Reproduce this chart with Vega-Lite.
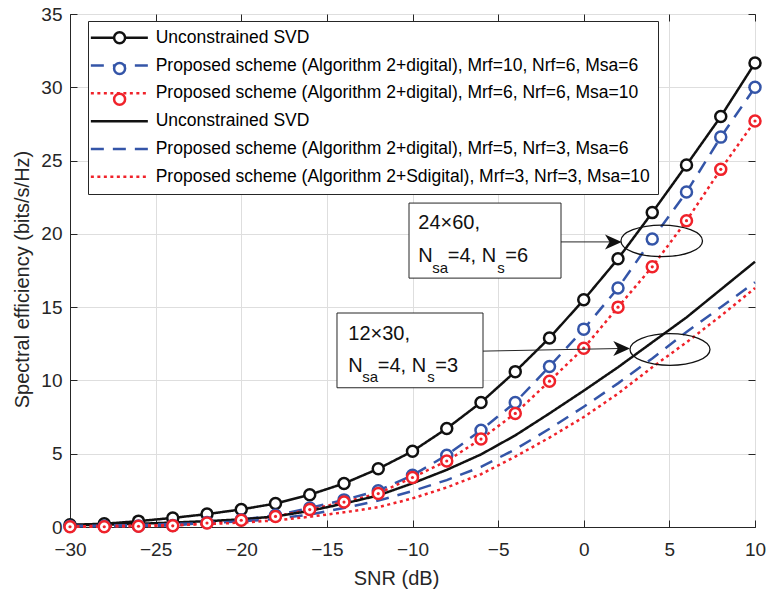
{
  "$schema": "https://vega.github.io/schema/vega-lite/v6.json",
  "width": 685,
  "height": 513,
  "autosize": {"type": "none"},
  "padding": {"left": 70, "top": 14, "right": 11, "bottom": 67},
  "background": "white",
  "config": {
    "font": "Liberation Sans",
    "view": {"stroke": "#262626", "strokeWidth": 1},
    "axis": {
      "domainColor": "#262626", "tickColor": "#262626", "labelColor": "#262626", "titleColor": "#262626",
      "gridColor": "#dedede", "labelFontSize": 19, "titleFontSize": 20, "titleFontWeight": "normal",
      "labelFont": "Liberation Sans", "titleFont": "Liberation Sans", "labelFlush": false
    }
  },
  "data": {"values": [
    {"series":"S1","snr":-30,"se":0.15},{"series":"S1","snr":-28,"se":0.22},{"series":"S1","snr":-26,"se":0.4},{"series":"S1","snr":-24,"se":0.62},{"series":"S1","snr":-22,"se":0.88},{"series":"S1","snr":-20,"se":1.2},{"series":"S1","snr":-18,"se":1.6},{"series":"S1","snr":-16,"se":2.2},{"series":"S1","snr":-14,"se":2.97},{"series":"S1","snr":-12,"se":3.97},{"series":"S1","snr":-10,"se":5.17},{"series":"S1","snr":-8,"se":6.72},{"series":"S1","snr":-6,"se":8.5},{"series":"S1","snr":-4,"se":10.6},{"series":"S1","snr":-2,"se":12.9},{"series":"S1","snr":0,"se":15.5},{"series":"S1","snr":2,"se":18.3},{"series":"S1","snr":4,"se":21.45},{"series":"S1","snr":6,"se":24.7},{"series":"S1","snr":8,"se":28.0},{"series":"S1","snr":10,"se":31.66},
    {"series":"S2","snr":-30,"se":0.05},{"series":"S2","snr":-28,"se":0.05},{"series":"S2","snr":-26,"se":0.07},{"series":"S2","snr":-24,"se":0.1},{"series":"S2","snr":-22,"se":0.3},{"series":"S2","snr":-20,"se":0.5},{"series":"S2","snr":-18,"se":0.8},{"series":"S2","snr":-16,"se":1.3},{"series":"S2","snr":-14,"se":1.85},{"series":"S2","snr":-12,"se":2.48},{"series":"S2","snr":-10,"se":3.53},{"series":"S2","snr":-8,"se":4.9},{"series":"S2","snr":-6,"se":6.6},{"series":"S2","snr":-4,"se":8.5},{"series":"S2","snr":-2,"se":10.95},{"series":"S2","snr":0,"se":13.5},{"series":"S2","snr":2,"se":16.3},{"series":"S2","snr":4,"se":19.65},{"series":"S2","snr":6,"se":22.85},{"series":"S2","snr":8,"se":26.6},{"series":"S2","snr":10,"se":30.0},
    {"series":"S3","snr":-30,"se":0.02},{"series":"S3","snr":-28,"se":0.02},{"series":"S3","snr":-26,"se":0.05},{"series":"S3","snr":-24,"se":0.08},{"series":"S3","snr":-22,"se":0.27},{"series":"S3","snr":-20,"se":0.46},{"series":"S3","snr":-18,"se":0.72},{"series":"S3","snr":-16,"se":1.19},{"series":"S3","snr":-14,"se":1.7},{"series":"S3","snr":-12,"se":2.28},{"series":"S3","snr":-10,"se":3.38},{"series":"S3","snr":-8,"se":4.5},{"series":"S3","snr":-6,"se":6.0},{"series":"S3","snr":-4,"se":7.75},{"series":"S3","snr":-2,"se":9.95},{"series":"S3","snr":0,"se":12.2},{"series":"S3","snr":2,"se":15.0},{"series":"S3","snr":4,"se":17.75},{"series":"S3","snr":6,"se":20.9},{"series":"S3","snr":8,"se":24.4},{"series":"S3","snr":10,"se":27.7},
    {"series":"S4","snr":-30,"se":0.12},{"series":"S4","snr":-28,"se":0.16},{"series":"S4","snr":-26,"se":0.22},{"series":"S4","snr":-24,"se":0.3},{"series":"S4","snr":-22,"se":0.4},{"series":"S4","snr":-20,"se":0.52},{"series":"S4","snr":-18,"se":0.72},{"series":"S4","snr":-16,"se":1.1},{"series":"S4","snr":-14,"se":1.6},{"series":"S4","snr":-12,"se":2.15},{"series":"S4","snr":-10,"se":2.98},{"series":"S4","snr":-8,"se":3.9},{"series":"S4","snr":-6,"se":4.95},{"series":"S4","snr":-4,"se":6.25},{"series":"S4","snr":-2,"se":7.75},{"series":"S4","snr":0,"se":9.3},{"series":"S4","snr":2,"se":10.9},{"series":"S4","snr":4,"se":12.6},{"series":"S4","snr":6,"se":14.3},{"series":"S4","snr":8,"se":16.2},{"series":"S4","snr":10,"se":18.1},
    {"series":"S5","snr":-30,"se":0.08},{"series":"S5","snr":-28,"se":0.1},{"series":"S5","snr":-26,"se":0.14},{"series":"S5","snr":-24,"se":0.2},{"series":"S5","snr":-22,"se":0.28},{"series":"S5","snr":-20,"se":0.38},{"series":"S5","snr":-18,"se":0.55},{"series":"S5","snr":-16,"se":0.85},{"series":"S5","snr":-14,"se":1.3},{"series":"S5","snr":-12,"se":1.8},{"series":"S5","snr":-10,"se":2.45},{"series":"S5","snr":-8,"se":3.2},{"series":"S5","snr":-6,"se":4.1},{"series":"S5","snr":-4,"se":5.3},{"series":"S5","snr":-2,"se":6.7},{"series":"S5","snr":0,"se":8.2},{"series":"S5","snr":2,"se":9.8},{"series":"S5","snr":4,"se":11.5},{"series":"S5","snr":6,"se":13.3},{"series":"S5","snr":8,"se":15.0},{"series":"S5","snr":10,"se":16.7},
    {"series":"S6","snr":-30,"se":0.05},{"series":"S6","snr":-28,"se":0.07},{"series":"S6","snr":-26,"se":0.1},{"series":"S6","snr":-24,"se":0.14},{"series":"S6","snr":-22,"se":0.2},{"series":"S6","snr":-20,"se":0.3},{"series":"S6","snr":-18,"se":0.45},{"series":"S6","snr":-16,"se":0.7},{"series":"S6","snr":-14,"se":1.0},{"series":"S6","snr":-12,"se":1.35},{"series":"S6","snr":-10,"se":1.95},{"series":"S6","snr":-8,"se":2.7},{"series":"S6","snr":-6,"se":3.6},{"series":"S6","snr":-4,"se":4.8},{"series":"S6","snr":-2,"se":6.1},{"series":"S6","snr":0,"se":7.5},{"series":"S6","snr":2,"se":9.1},{"series":"S6","snr":4,"se":10.9},{"series":"S6","snr":6,"se":12.6},{"series":"S6","snr":8,"se":14.4},{"series":"S6","snr":10,"se":16.3}
  ]},
  "resolve": {"axis": {"x": "independent", "y": "independent"}},
  "layer": [
    {
      "mark": {"type": "line", "strokeWidth": 2.5},
      "encoding": {
        "x": {"field": "snr", "type": "quantitative", "scale": {"domain": [-30, 10], "nice": false},
              "axis": {"values": [-30,-25,-20,-15,-10,-5,0,5,10], "title": "SNR (dB)", "grid": true, "tickSize": -7, "labelPadding": 20, "titleY": 51, "titleX": 326, "titleBaseline": "middle"}},
        "y": {"field": "se", "type": "quantitative", "scale": {"domain": [0, 35], "nice": false},
              "axis": {"values": [0,5,10,15,20,25,30,35], "title": "Spectral efficiency (bits/s/Hz)", "grid": true, "tickSize": -7, "labelPadding": 15, "titleX": -48, "titleY": 265, "titleBaseline": "middle"}},
        "color": {"field": "series", "type": "nominal",
          "scale": {"domain": ["S1","S2","S3","S4","S5","S6"], "range": ["#111111","#3455a8","#f0222a","#111111","#3455a8","#f0222a"]},
          "legend": {"title": null, "orient": "none", "legendX": 18, "legendY": 7, "symbolType": "M-5,0L5,0", "symbolSize": 130, "symbolStrokeWidth": 2.5, "symbolOffset": 14.6, "labelOffset": 27.6, "labelFontSize": 17.5, "labelColor": "black", "labelFont": "Liberation Sans", "labelLimit": 700, "padding": 8, "rowPadding": 8.8, "strokeColor": "#262626", "fillColor": "white", "cornerRadius": 0, "symbolOpacity": 1,
            "labelExpr": "datum.value == 'S1' || datum.value == 'S4' ? 'Unconstrained SVD' : datum.value == 'S2' ? 'Proposed scheme (Algorithm 2+digital), Mrf=10, Nrf=6, Msa=6' : datum.value == 'S3' ? 'Proposed scheme (Algorithm 2+digital), Mrf=6, Nrf=6, Msa=10' : datum.value == 'S5' ? 'Proposed scheme (Algorithm 2+digital), Mrf=5, Nrf=3, Msa=6' : 'Proposed scheme (Algorithm 2+Sdigital), Mrf=3, Nrf=3, Msa=10'"}},
        "strokeDash": {"field": "series", "type": "nominal",
          "scale": {"domain": ["S1","S2","S3","S4","S5","S6"], "range": [[1,0],[13,9],[3,3.5],[1,0],[13,9],[3,3.5]]},
          "legend": {"title": null, "orient": "none", "legendX": 18, "legendY": 7, "symbolType": "M-5,0L5,0", "symbolSize": 130, "symbolStrokeWidth": 2.5, "symbolOffset": 14.6, "labelOffset": 27.6, "labelFontSize": 17.5, "labelColor": "black", "labelFont": "Liberation Sans", "labelLimit": 700, "padding": 8, "rowPadding": 8.8, "strokeColor": "#262626", "fillColor": "white", "cornerRadius": 0, "symbolOpacity": 1,
            "labelExpr": "datum.value == 'S1' || datum.value == 'S4' ? 'Unconstrained SVD' : datum.value == 'S2' ? 'Proposed scheme (Algorithm 2+digital), Mrf=10, Nrf=6, Msa=6' : datum.value == 'S3' ? 'Proposed scheme (Algorithm 2+digital), Mrf=6, Nrf=6, Msa=10' : datum.value == 'S5' ? 'Proposed scheme (Algorithm 2+digital), Mrf=5, Nrf=3, Msa=6' : 'Proposed scheme (Algorithm 2+Sdigital), Mrf=3, Nrf=3, Msa=10'"}}
      }
    },
    {
      "transform": [{"filter": {"field": "series", "oneOf": ["S1","S2","S3"]}}],
      "mark": {"type": "point", "filled": false, "fill": "white", "size": 121, "strokeWidth": 2.5, "opacity": 1},
      "encoding": {
        "x": {"field": "snr", "type": "quantitative", "scale": {"domain": [-30, 10], "nice": false},
              "axis": {"orient": "top", "values": [-30,-25,-20,-15,-10,-5,0,5,10], "labels": false, "title": null, "grid": false, "domain": false, "tickSize": -7}},
        "y": {"field": "se", "type": "quantitative", "scale": {"domain": [0, 35], "nice": false},
              "axis": {"orient": "right", "values": [0,5,10,15,20,25,30,35], "labels": false, "title": null, "grid": false, "domain": false, "tickSize": -7}},
        "stroke": {"field": "series", "type": "nominal",
          "scale": {"domain": ["S1","S2","S3"], "range": ["#111111","#3455a8","#f0222a"]},
          "legend": {"title": null, "orient": "none", "legendX": 18, "legendY": 7, "symbolSize": 121, "symbolOffset": 14.85, "labelOffset": 27.6, "labelFontSize": 17.5, "labelLimit": 700, "padding": 8, "rowPadding": 8.8, "labelExpr": "' '", "symbolOpacity": 1, "symbolStrokeWidth": 2.5, "symbolFillColor": "white",
            "encode": {"symbols": {"update": {"fill": {"value": "white"}, "fillOpacity": {"value": 1}}}}}},
        "shape": {"field": "series", "type": "nominal",
          "scale": {"domain": ["S1","S2","S3"], "range": ["circle","circle","circle"]},
          "legend": {"title": null, "orient": "none", "legendX": 18, "legendY": 7, "symbolSize": 121, "symbolOffset": 14.85, "labelOffset": 27.6, "labelFontSize": 17.5, "labelLimit": 700, "padding": 8, "rowPadding": 8.8, "labelExpr": "' '", "symbolOpacity": 1, "symbolStrokeWidth": 2.5, "symbolFillColor": "white",
            "encode": {"symbols": {"update": {"fill": {"value": "white"}, "fillOpacity": {"value": 1}}}}}}
      }
    },
    {
      "transform": [{"filter": {"field": "series", "equal": "S3"}}],
      "mark": {"type": "point", "filled": true, "size": 10, "color": "#f0222a", "opacity": 1},
      "encoding": {
        "x": {"field": "snr", "type": "quantitative", "axis": null},
        "y": {"field": "se", "type": "quantitative", "axis": null}
      }
    },
    {
      "data": {"values": [{}]},
      "mark": {"type": "rect", "fill": "white", "stroke": "#262626", "strokeWidth": 1},
      "encoding": {"x": {"datum": -10.204, "type": "quantitative", "axis": null}, "x2": {"datum": -1.328}, "y": {"datum": 22.1, "type": "quantitative", "axis": null}, "y2": {"datum": 16.98}}
    },
    {
      "data": {"values": [{}]},
      "mark": {"type": "rect", "fill": "white", "stroke": "#262626", "strokeWidth": 1},
      "encoding": {"x": {"datum": -14.409, "type": "quantitative", "axis": null}, "x2": {"datum": -5.883}, "y": {"datum": 14.6, "type": "quantitative", "axis": null}, "y2": {"datum": 9.5}}
    },
    {
      "data": {"values": [{}]},
      "mark": {"type": "rule", "stroke": "#262626", "strokeWidth": 1},
      "encoding": {"x": {"datum": -1.328, "type": "quantitative", "axis": null}, "x2": {"datum": 1.7}, "y": {"datum": 19.45, "type": "quantitative", "axis": null}, "y2": {"datum": 19.45}}
    },
    {
      "data": {"values": [{}]},
      "mark": {"type": "rule", "stroke": "#262626", "strokeWidth": 1},
      "encoding": {"x": {"datum": -5.883, "type": "quantitative", "axis": null}, "x2": {"datum": 2.2}, "y": {"datum": 12.0, "type": "quantitative", "axis": null}, "y2": {"datum": 12.18}}
    },
    {
      "data": {"values": [{}]},
      "mark": {"type": "point", "shape": "M1,0L-1,-0.9L-0.45,0L-1,0.9Z", "size": 279, "filled": true, "color": "#111111", "opacity": 1},
      "encoding": {"x": {"datum": 1.729, "type": "quantitative", "axis": null}, "y": {"datum": 19.45, "type": "quantitative", "axis": null}}
    },
    {
      "data": {"values": [{}]},
      "mark": {"type": "point", "shape": "M1,0L-1,-0.9L-0.45,0L-1,0.9Z", "size": 279, "filled": true, "color": "#111111", "opacity": 1},
      "encoding": {"x": {"datum": 2.213, "type": "quantitative", "axis": null}, "y": {"datum": 12.18, "type": "quantitative", "axis": null}}
    },
    {
      "data": {"values": [{}]},
      "mark": {"type": "point", "shape": "M-1,0C-1,-0.2138,-0.5523,-0.387,0,-0.387C0.5523,-0.387,1,-0.2138,1,0C1,0.2138,0.5523,0.387,0,0.387C-0.5523,0.387,-1,0.2138,-1,0Z", "size": 6659, "filled": false, "stroke": "#111111", "strokeWidth": 1.3, "opacity": 1},
      "encoding": {"x": {"datum": 4.552, "type": "quantitative", "axis": null}, "y": {"datum": 19.52, "type": "quantitative", "axis": null}}
    },
    {
      "data": {"values": [{}]},
      "mark": {"type": "point", "shape": "M-1,0C-1,-0.2184,-0.5523,-0.395,0,-0.395C0.5523,-0.395,1,-0.2184,1,0C1,0.2184,0.5523,0.395,0,0.395C-0.5523,0.395,-1,0.2184,-1,0Z", "size": 6400, "filled": false, "stroke": "#111111", "strokeWidth": 1.3, "opacity": 1},
      "encoding": {"x": {"datum": 5.036, "type": "quantitative", "axis": null}, "y": {"datum": 12.11, "type": "quantitative", "axis": null}}
    },
    {
      "data": {"values": [{}]},
      "mark": {"type": "text", "text": "24×60,", "align": "left", "baseline": "alphabetic", "fontSize": 20, "color": "#111111"},
      "encoding": {"x": {"datum": -9.661, "type": "quantitative", "axis": null}, "y": {"datum": 20.3, "type": "quantitative", "axis": null}}
    },
    {
      "data": {"values": [{}]},
      "mark": {"type": "text", "text": "N", "align": "left", "baseline": "alphabetic", "fontSize": 20, "color": "#111111"},
      "encoding": {"x": {"datum": -9.661, "type": "quantitative", "axis": null}, "y": {"datum": 18.09, "type": "quantitative", "axis": null}}
    },
    {
      "data": {"values": [{}]},
      "mark": {"type": "text", "text": "sa", "align": "left", "baseline": "alphabetic", "fontSize": 15, "dx": 14, "dy": 11, "color": "#111111"},
      "encoding": {"x": {"datum": -9.661, "type": "quantitative", "axis": null}, "y": {"datum": 18.09, "type": "quantitative", "axis": null}}
    },
    {
      "data": {"values": [{}]},
      "mark": {"type": "text", "text": "=4, N", "align": "left", "baseline": "alphabetic", "fontSize": 20, "dx": 29.5, "color": "#111111"},
      "encoding": {"x": {"datum": -9.661, "type": "quantitative", "axis": null}, "y": {"datum": 18.09, "type": "quantitative", "axis": null}}
    },
    {
      "data": {"values": [{}]},
      "mark": {"type": "text", "text": "s", "align": "left", "baseline": "alphabetic", "fontSize": 15, "dx": 79, "dy": 11, "color": "#111111"},
      "encoding": {"x": {"datum": -9.661, "type": "quantitative", "axis": null}, "y": {"datum": 18.09, "type": "quantitative", "axis": null}}
    },
    {
      "data": {"values": [{}]},
      "mark": {"type": "text", "text": "=6", "align": "left", "baseline": "alphabetic", "fontSize": 20, "dx": 87, "color": "#111111"},
      "encoding": {"x": {"datum": -9.661, "type": "quantitative", "axis": null}, "y": {"datum": 18.09, "type": "quantitative", "axis": null}}
    },
    {
      "data": {"values": [{}]},
      "mark": {"type": "text", "text": "12×30,", "align": "left", "baseline": "alphabetic", "fontSize": 20, "color": "#111111"},
      "encoding": {"x": {"datum": -13.749, "type": "quantitative", "axis": null}, "y": {"datum": 12.74, "type": "quantitative", "axis": null}}
    },
    {
      "data": {"values": [{}]},
      "mark": {"type": "text", "text": "N", "align": "left", "baseline": "alphabetic", "fontSize": 20, "color": "#111111"},
      "encoding": {"x": {"datum": -13.749, "type": "quantitative", "axis": null}, "y": {"datum": 10.58, "type": "quantitative", "axis": null}}
    },
    {
      "data": {"values": [{}]},
      "mark": {"type": "text", "text": "sa", "align": "left", "baseline": "alphabetic", "fontSize": 15, "dx": 14, "dy": 10, "color": "#111111"},
      "encoding": {"x": {"datum": -13.749, "type": "quantitative", "axis": null}, "y": {"datum": 10.58, "type": "quantitative", "axis": null}}
    },
    {
      "data": {"values": [{}]},
      "mark": {"type": "text", "text": "=4, N", "align": "left", "baseline": "alphabetic", "fontSize": 20, "dx": 29.5, "color": "#111111"},
      "encoding": {"x": {"datum": -13.749, "type": "quantitative", "axis": null}, "y": {"datum": 10.58, "type": "quantitative", "axis": null}}
    },
    {
      "data": {"values": [{}]},
      "mark": {"type": "text", "text": "s", "align": "left", "baseline": "alphabetic", "fontSize": 15, "dx": 79, "dy": 10, "color": "#111111"},
      "encoding": {"x": {"datum": -13.749, "type": "quantitative", "axis": null}, "y": {"datum": 10.58, "type": "quantitative", "axis": null}}
    },
    {
      "data": {"values": [{}]},
      "mark": {"type": "text", "text": "=3", "align": "left", "baseline": "alphabetic", "fontSize": 20, "dx": 87, "color": "#111111"},
      "encoding": {"x": {"datum": -13.749, "type": "quantitative", "axis": null}, "y": {"datum": 10.58, "type": "quantitative", "axis": null}}
    }
  ]
}
